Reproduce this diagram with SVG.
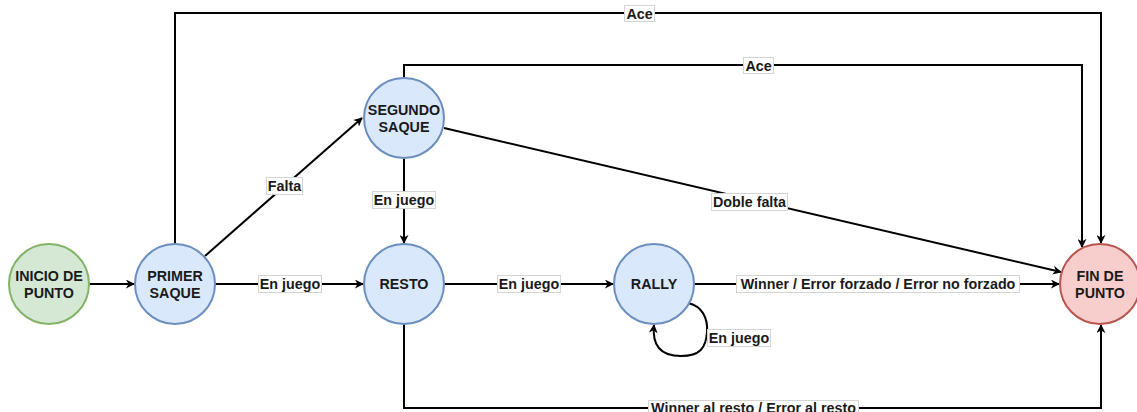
<svg xmlns="http://www.w3.org/2000/svg" width="1137" height="412" viewBox="0 0 1137 412">
<defs>
<marker id="arr" viewBox="0 0 10 10" refX="9" refY="5" markerWidth="9" markerHeight="9" markerUnits="userSpaceOnUse" orient="auto">
<path d="M0,0 L10,5 L0,10 L3,5 Z" fill="#000"/>
</marker>
<style>
.n{stroke-width:2}
.blue{fill:#dae8fc;stroke:#6c8ebf}
.green{fill:#d5e8d4;stroke:#82b366}
.red{fill:#f8cecc;stroke:#b85450}
.t{font-family:"Liberation Sans",Arial,sans-serif;font-weight:bold;font-size:14.3px;fill:#1a1a1a;text-anchor:middle}
.e{fill:none;stroke:#000;stroke-width:2;marker-end:url(#arr)}
.lb{fill:#fff;stroke:#d4d4d4;stroke-width:1}
</style>
</defs>
<rect width="1137" height="412" fill="#fff"/>
<g id="connectors">
<path class="e" d="M175,244 V13 H1101 V243"/>
<path class="e" d="M404,78 V65 H1082 V247"/>
<path class="e" d="M444,128 L1061,272"/>
<path class="e" d="M205,256 L362,118"/>
<path class="e" d="M404,158 V243"/>
<path class="e" d="M89,284 H134"/>
<path class="e" d="M215,284 H363"/>
<path class="e" d="M444,284 H613"/>
<path class="e" d="M694,284 H1059"/>
<path class="e" d="M404,324 V408 H1101 V325"/>
<path class="e" d="M688,303 C702,306 708,318 707,332 C706,348 700,356 681,356 C660,356 652,345 654,325"/>
<g id="labels">
<rect class="lb" x="624.5" y="5.5" width="30" height="16"/><text class="t" x="639.5" y="18.5">Ace</text>
<rect class="lb" x="743.5" y="57.5" width="30" height="16"/><text class="t" x="758.5" y="70.5">Ace</text>
<rect class="lb" x="711.5" y="193.5" width="76" height="17"/><text class="t" x="749.5" y="207">Doble falta</text>
<rect class="lb" x="266.5" y="177.5" width="36" height="17"/><text class="t" x="284.5" y="191">Falta</text>
<rect class="lb" x="372.5" y="191.5" width="63" height="17"/><text class="t" x="404" y="205">En juego</text>
<rect class="lb" x="258.5" y="275.5" width="63" height="17"/><text class="t" x="290" y="289">En juego</text>
<rect class="lb" x="497.5" y="275.5" width="63" height="17"/><text class="t" x="529" y="289">En juego</text>
<rect class="lb" x="736.5" y="275.5" width="283" height="17"/><text class="t" x="878" y="289">Winner / Error forzado / Error no forzado</text>
<rect class="lb" x="648.5" y="400.5" width="210" height="17"/><text class="t" x="753.5" y="413">Winner al resto / Error al resto</text>
<rect class="lb" x="707.5" y="329.5" width="63" height="17"/><text class="t" x="739" y="343">En juego</text>
</g>
</g>
<g id="inicio"><circle class="n green" cx="49" cy="284" r="40"/><text class="t" x="49" y="281">INICIO DE</text><text class="t" x="49" y="298">PUNTO</text></g>
<g id="primer"><circle class="n blue" cx="175" cy="284" r="40"/><text class="t" x="175" y="281">PRIMER</text><text class="t" x="175" y="298">SAQUE</text></g>
<g id="segundo"><circle class="n blue" cx="404" cy="118" r="40"/><text class="t" x="404" y="115">SEGUNDO</text><text class="t" x="404" y="132">SAQUE</text></g>
<g id="resto"><circle class="n blue" cx="404" cy="284" r="40"/><text class="t" x="404" y="289">RESTO</text></g>
<g id="rally"><circle class="n blue" cx="654" cy="284" r="40"/><text class="t" x="654" y="289">RALLY</text></g>
<g id="fin"><circle class="n red" cx="1100" cy="284" r="40"/><text class="t" x="1100" y="281">FIN DE</text><text class="t" x="1100" y="298">PUNTO</text></g>
</svg>
